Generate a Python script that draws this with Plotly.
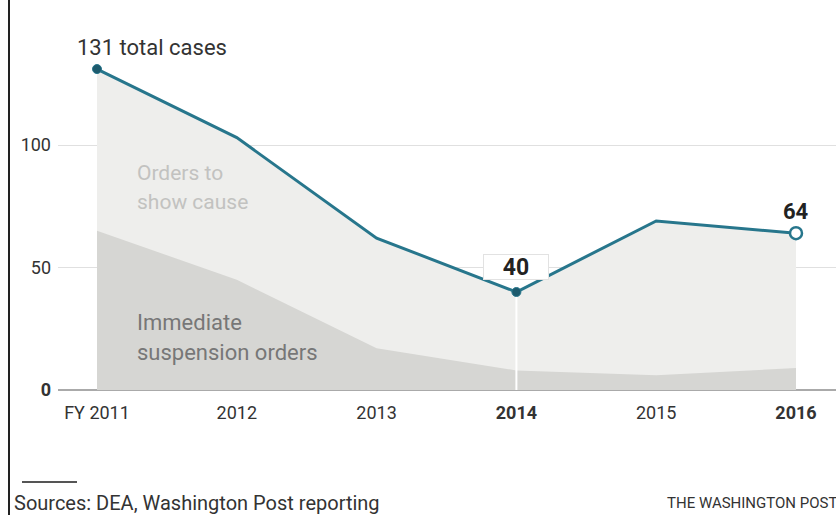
import plotly.graph_objects as go

years = [2011, 2012, 2013, 2014, 2015, 2016]
year_labels = ["FY 2011", "2012", "2013", "<b>2014</b>", "2015", "<b>2016</b>"]
total_cases = [131, 103, 62, 40, 69, 64]
immediate_suspension = [65, 45, 17, 8, 6, 9]
y_tick_vals = [0, 50, 100]
y_tick_labels = ["<b>0</b>", "50", "100"]

W, H = 836, 515
ML, MR, MT, MB = 58, 0, 10, 123
PX_PER_YEAR = 139.8
PX_PER_UNIT = 2.45

def px_x(px):
    return (px - ML) / (W - ML - MR)

def px_y(py):
    return (H - MB - py) / (H - MB - MT)

FONT = "Roboto, Arial, sans-serif"
TEAL = "#27768c"
DARK_TEAL = "#1d5a6d"

fig = go.Figure()

fig.add_trace(go.Scatter(
    x=years, y=total_cases, mode="none", fill="tozeroy",
    fillcolor="#eeeeec", hoverinfo="skip", showlegend=False))
fig.add_trace(go.Scatter(
    x=years, y=immediate_suspension, mode="none", fill="tozeroy",
    fillcolor="#d6d6d3", hoverinfo="skip", showlegend=False))
i14 = years.index(2014)
fig.add_trace(go.Scatter(
    x=[years[i14], years[i14]], y=[0, total_cases[i14]], mode="lines",
    line=dict(color="white", width=2), hoverinfo="skip", showlegend=False))
fig.add_trace(go.Scatter(
    x=years, y=total_cases, mode="lines",
    line=dict(color=TEAL, width=3), showlegend=False))
i16 = years.index(2016)
fig.add_trace(go.Scatter(
    x=[years[0], years[i14]], y=[total_cases[0], total_cases[i14]], mode="markers",
    marker=dict(color=DARK_TEAL, size=9, line=dict(color=TEAL, width=1)),
    showlegend=False))
fig.add_trace(go.Scatter(
    x=[years[i16]], y=[total_cases[i16]], mode="markers",
    marker=dict(color="white", size=12, line=dict(color=TEAL, width=2.5)),
    showlegend=False))

x0 = 2011 - (97 - ML) / PX_PER_YEAR
x1 = 2016 + (W - MR - 796) / PX_PER_YEAR
y0 = (390 - (H - MB)) / PX_PER_UNIT
y1 = (390 - MT) / PX_PER_UNIT

label_x = 2011 + (135 - 97) / PX_PER_YEAR

annotations = [
    dict(x=years[0], y=total_cases[0], text=f"{total_cases[0]} total cases",
         xanchor="left", yanchor="middle", xshift=-22, yshift=22,
         showarrow=False, font=dict(family=FONT, size=22, color="#333")),
    dict(x=years[i14], y=total_cases[i14], text=f"<b>{total_cases[i14]}</b>",
         xanchor="center", yanchor="middle", yshift=25, showarrow=False,
         bgcolor="white", bordercolor="#e2e2e2", borderwidth=1,
         width=62, height=22, borderpad=1,
         font=dict(family=FONT, size=23, color="#222")),
    dict(x=years[i16], y=total_cases[i16], text=f"<b>{total_cases[i16]}</b>",
         xanchor="center", yanchor="middle", yshift=22, showarrow=False,
         font=dict(family=FONT, size=22, color="#222")),
    dict(x=label_x, y=(390 - 173) / PX_PER_UNIT,
         text="Orders to", xanchor="left", yanchor="middle", showarrow=False,
         font=dict(family=FONT, size=21, color="#c2c2c0")),
    dict(x=label_x, y=(390 - 202) / PX_PER_UNIT,
         text="show cause", xanchor="left", yanchor="middle", showarrow=False,
         font=dict(family=FONT, size=21, color="#c2c2c0")),
    dict(x=label_x, y=(390 - 322) / PX_PER_UNIT,
         text="Immediate", xanchor="left", yanchor="middle", showarrow=False,
         font=dict(family=FONT, size=22, color="#777")),
    dict(x=label_x, y=(390 - 352) / PX_PER_UNIT,
         text="suspension orders", xanchor="left", yanchor="middle", showarrow=False,
         font=dict(family=FONT, size=22, color="#777")),
    dict(xref="paper", yref="paper", x=px_x(12), y=px_y(503),
         text="Sources: DEA, Washington Post reporting",
         xanchor="left", yanchor="middle", showarrow=False,
         font=dict(family=FONT, size=20, color="#333")),
    dict(xref="paper", yref="paper", x=px_x(665), y=px_y(503),
         text="THE WASHINGTON POST",
         xanchor="left", yanchor="middle", showarrow=False,
         font=dict(family=FONT, size=15, color="#333")),
]

shapes = [
    dict(type="line", xref="paper", yref="paper", x0=px_x(9), x1=px_x(9),
         y0=px_y(0), y1=px_y(515), line=dict(color="#222", width=2), layer="above"),
    dict(type="line", xref="paper", yref="paper", x0=px_x(22), x1=px_x(77),
         y0=px_y(482), y1=px_y(482), line=dict(color="#555", width=2), layer="above"),
]

fig.update_layout(
    width=W, height=H,
    margin=dict(l=ML, r=MR, t=MT, b=MB),
    paper_bgcolor="white", plot_bgcolor="white",
    font=dict(family=FONT, color="#333"),
    annotations=annotations, shapes=shapes,
    xaxis=dict(range=[x0, x1], tickvals=years, ticktext=year_labels,
               showgrid=False, zeroline=False, showline=False,
               tickfont=dict(family=FONT, size=18, color="#333"),
               ticks="", ticklabelstandoff=8, fixedrange=True),
    yaxis=dict(range=[y0, y1], tickvals=y_tick_vals, ticktext=y_tick_labels,
               showgrid=True, gridcolor="#e0e0e0", gridwidth=1,
               zeroline=True, zerolinecolor="#aaaaaa", zerolinewidth=2,
               showline=False, ticks="", ticklabelstandoff=6,
               tickfont=dict(family=FONT, size=18, color="#333"), fixedrange=True),
    hovermode=False,
)

fig.write_html(
    "out.html",
    config={"displayModeBar": False},
    post_script="document.body.style.margin='0px';document.body.style.overflow='hidden';",
)
